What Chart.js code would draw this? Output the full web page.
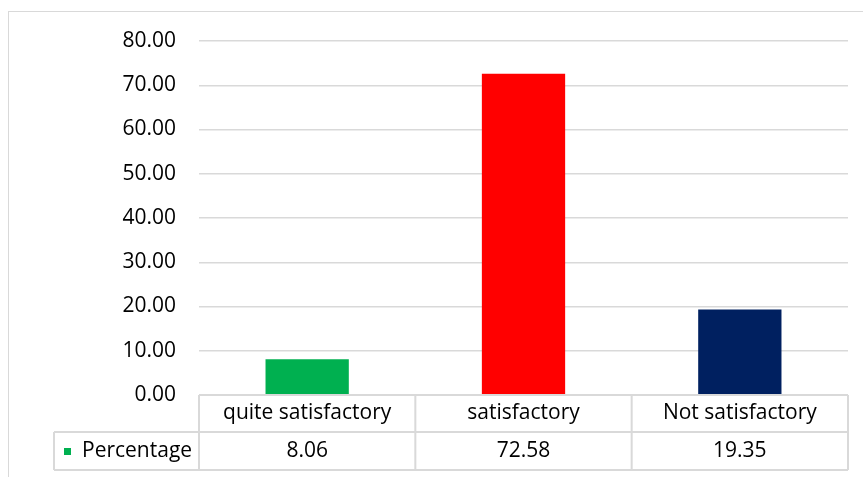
<!DOCTYPE html>
<html>
<head>
<meta charset="utf-8">
<script src="https://cdn.jsdelivr.net/npm/chart.js@4"></script>
<style>
  html, body { margin: 0; padding: 0; background: #fff; }
  #wrap { position: relative; width: 863px; height: 477px; overflow: hidden; }
  #frame { position: absolute; left: 8px; top: 11px; width: 870px; height: 500px; border: 1px solid #d9d9d9; }
  #grafico { position: absolute; left: 0; top: 0; }
</style>
</head>
<body>
<div id="wrap">
  <div id="frame"></div>
  <canvas id="grafico" width="863" height="477"></canvas>
</div>
<script>
const categorias = ["quite satisfactory", "satisfactory", "Not satisfactory"];
const percentagem = [8.06, 72.58, 19.35];
const rotulosValores = ["8.06", "72.58", "19.35"];
const nomeSerie = "Percentage";
const coresBarras = ["#00b050", "#ff0000", "#002060"];

const fonte = "21px 'Open Sans'";
const corLinha = "#d9d9d9";

// tabela de dados por baixo do eixo (como no Excel)
const tabelaDados = {
    id: "tabelaDados",
    afterDraw(chart) {
        const ctx = chart.ctx;
        const area = chart.chartArea;
        const n = categorias.length;
        const larg = (area.right - area.left) / n;
        const topo = area.bottom;
        const meio = topo + 37;
        const fundo = topo + 75;
        const esq = 54;

        ctx.save();
        ctx.strokeStyle = corLinha;
        ctx.lineWidth = 2;
        ctx.beginPath();
        // linhas horizontais
        ctx.moveTo(area.left, topo); ctx.lineTo(area.right, topo);
        ctx.moveTo(esq, meio); ctx.lineTo(area.right, meio);
        ctx.moveTo(esq, fundo); ctx.lineTo(area.right, fundo);
        // linhas verticais
        ctx.moveTo(esq, meio); ctx.lineTo(esq, fundo);
        for (let i = 0; i <= n; i++) {
            const x = area.left + i * larg;
            ctx.moveTo(x, topo); ctx.lineTo(x, fundo);
        }
        ctx.stroke();

        ctx.fillStyle = "#000";
        ctx.font = fonte;
        ctx.textAlign = "center";
        ctx.textBaseline = "middle";
        const xs = chart.scales.x;
        categorias.forEach((c, i) => {
            const cx = xs.getPixelForValue(i);
            ctx.fillText(c, cx, (topo + meio) / 2);
            ctx.fillText(rotulosValores[i], cx, (meio + fundo) / 2);
        });

        // legenda
        ctx.fillStyle = coresBarras[0];
        ctx.fillRect(64, (meio + fundo) / 2 - 3, 7, 7);
        ctx.fillStyle = "#000";
        ctx.textAlign = "left";
        ctx.fillText(nomeSerie, 82, (meio + fundo) / 2);
        ctx.restore();
    }
};

const ctx = document.getElementById("grafico").getContext("2d");

new Chart(ctx, {
    type: "bar",
    data: {
        labels: categorias,
        datasets: [{
            label: nomeSerie,
            data: percentagem,
            backgroundColor: coresBarras,
            categoryPercentage: 1,
            barPercentage: 0.385
        }]
    },
    options: {
        responsive: false,
        animation: false,
        layout: {
            padding: { left: 0, top: 41, right: 15, bottom: 82 }
        },
        plugins: {
            legend: { display: false },
            tooltip: { enabled: false }
        },
        scales: {
            x: { display: false },
            y: {
                min: 0,
                max: 80,
                afterFit: scale => { scale.width = 199; },
                border: { display: false },
                grid: { color: corLinha, lineWidth: 1.5, drawTicks: false },
                ticks: {
                    stepSize: 10,
                    padding: 23,
                    color: "#000",
                    font: { family: "'Open Sans'", size: 21 },
                    callback: v => v.toFixed(2)
                }
            }
        }
    },
    plugins: [tabelaDados]
});
</script>
</body>
</html>
